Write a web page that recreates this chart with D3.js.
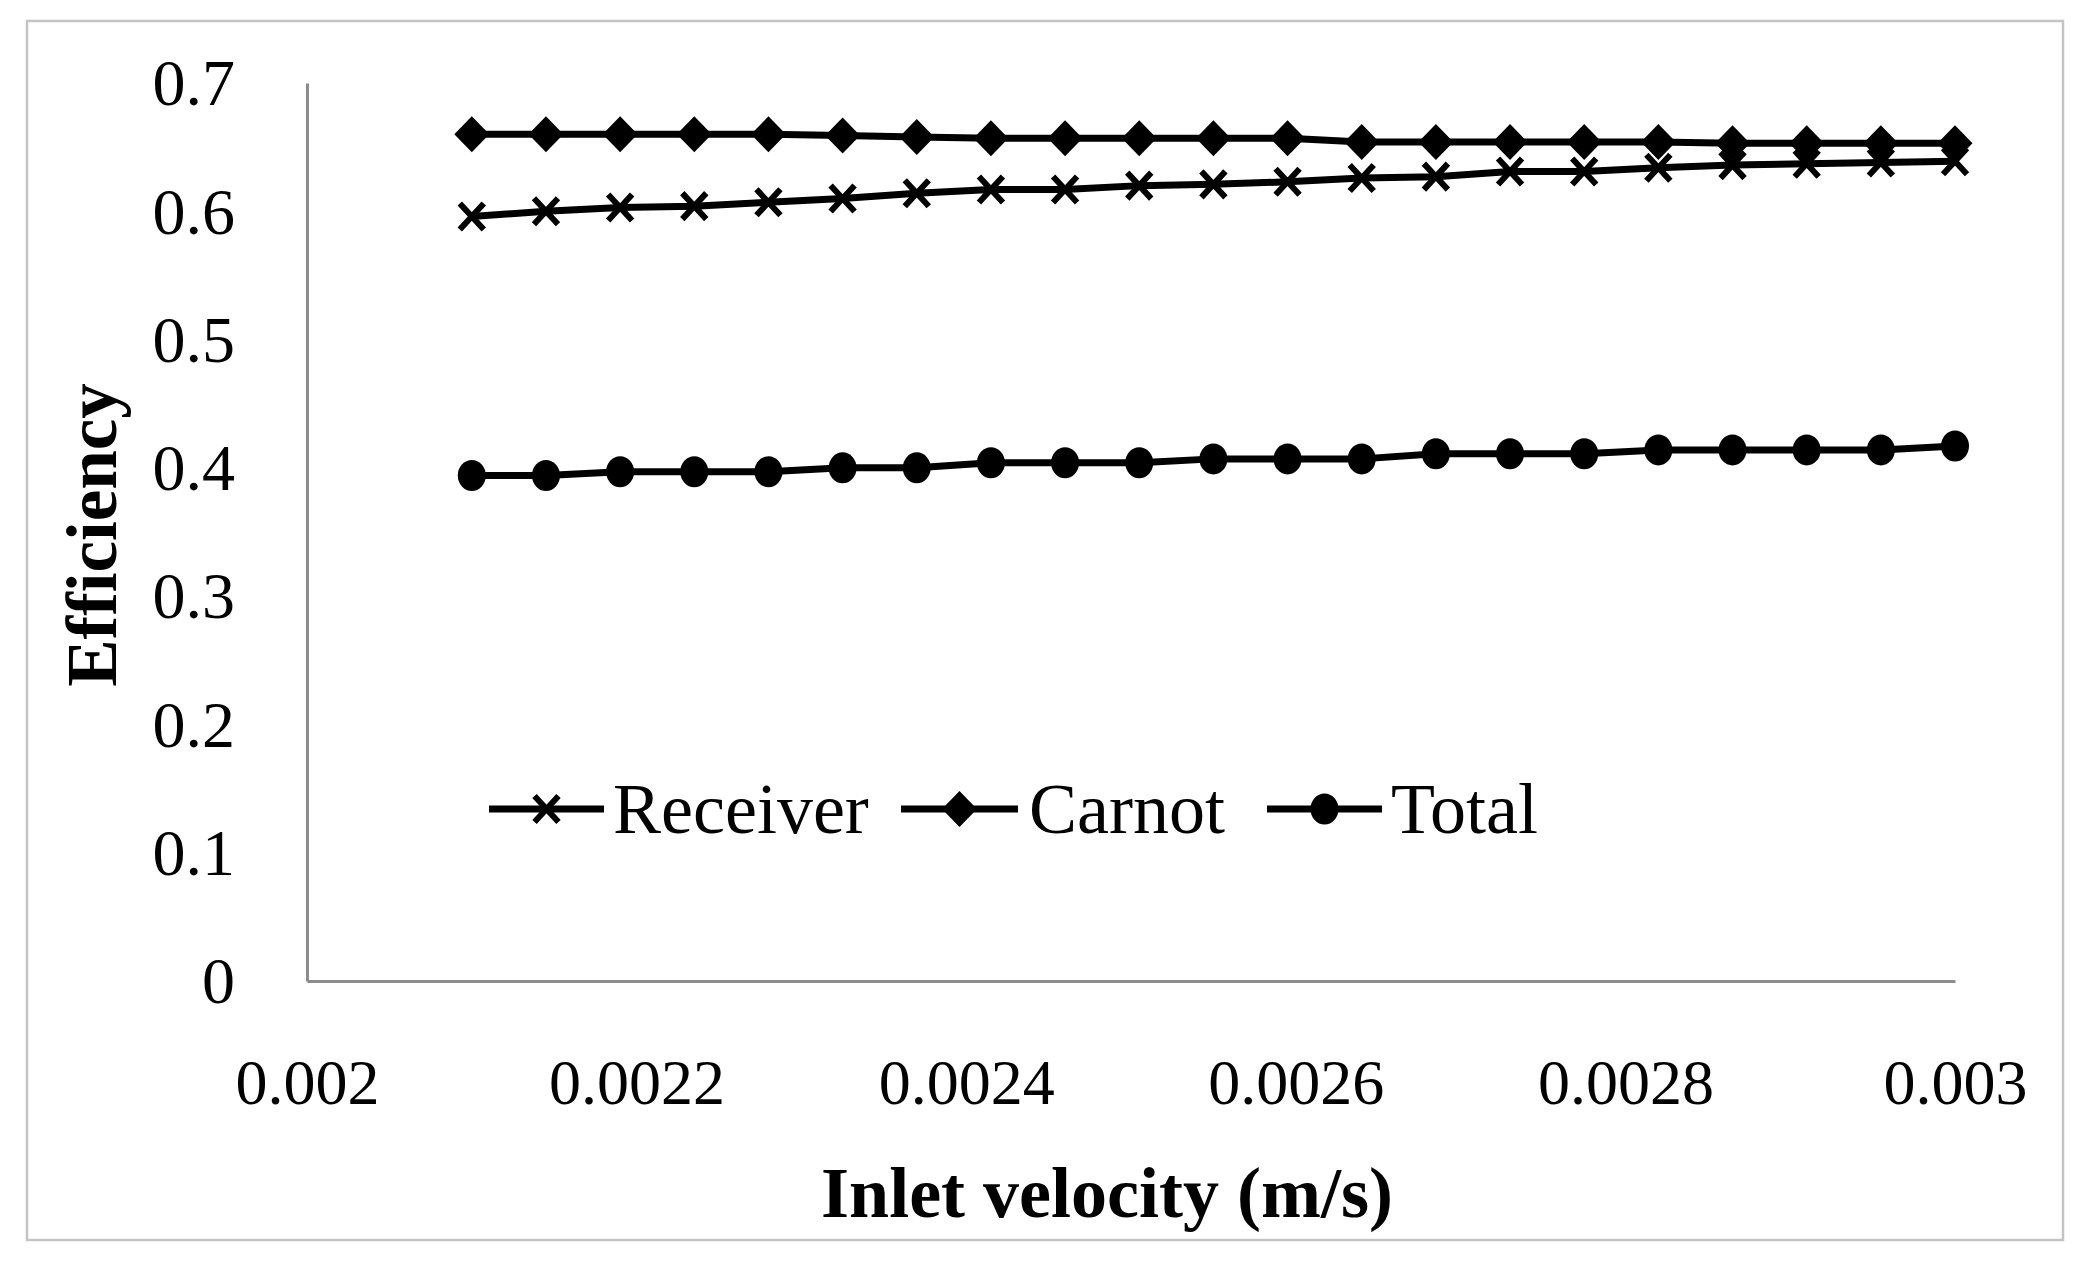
<!DOCTYPE html>
<html>
<head>
<meta charset="utf-8">
<script src="https://cdn.jsdelivr.net/npm/d3@7"></script>
<style>
  html, body { margin: 0; padding: 0; background: #fff; }
  svg { display: block; }
  text { font-family: "Liberation Serif", "Times New Roman", serif; fill: #000; }
</style>
</head>
<body>
<svg id="chart" width="2090" height="1266"></svg>
<script>
// ---- data ----
const velocity = [0.0021, 0.002145, 0.00219, 0.002235, 0.00228, 0.002325, 0.00237, 0.002415, 0.00246, 0.002505,
                  0.00255, 0.002595, 0.00264, 0.002685, 0.00273, 0.002775, 0.00282, 0.002865, 0.00291, 0.002955, 0.003];
const receiver = [0.596, 0.600, 0.603, 0.604, 0.607, 0.610, 0.614, 0.617, 0.617, 0.620, 0.621,
                  0.623, 0.626, 0.627, 0.631, 0.631, 0.634, 0.636, 0.637, 0.638, 0.639];
const carnot   = [0.660, 0.660, 0.660, 0.660, 0.660, 0.659, 0.658, 0.657, 0.657, 0.657, 0.657,
                  0.657, 0.654, 0.654, 0.654, 0.654, 0.654, 0.653, 0.653, 0.653, 0.653];
const total    = [0.394, 0.394, 0.397, 0.397, 0.397, 0.400, 0.400, 0.404, 0.404, 0.404, 0.407,
                  0.407, 0.407, 0.411, 0.411, 0.411, 0.414, 0.414, 0.414, 0.414, 0.417];
const seriesNames = ["Receiver", "Carnot", "Total"];
const xTicks = [0.002, 0.0022, 0.0024, 0.0026, 0.0028, 0.003];
const xTickLabels = ["0.002", "0.0022", "0.0024", "0.0026", "0.0028", "0.003"];
const yTicks = [0, 0.1, 0.2, 0.3, 0.4, 0.5, 0.6, 0.7];
const yTickLabels = ["0", "0.1", "0.2", "0.3", "0.4", "0.5", "0.6", "0.7"];

const series = [
  { name: seriesNames[0], values: receiver, marker: "x" },
  { name: seriesNames[1], values: carnot, marker: "diamond" },
  { name: seriesNames[2], values: total, marker: "circle" }
];

// ---- layout ----
const svg = d3.select("#chart");
const plot = { left: 307, right: 1955, top: 83, bottom: 981 };

const x = d3.scaleLinear().domain([0.002, 0.003]).range([plot.left, plot.right]);
const y = d3.scaleLinear().domain([0, 0.7]).range([plot.bottom, plot.top]);

// outer border
svg.append("rect")
  .attr("x", 27).attr("y", 21).attr("width", 2036).attr("height", 1219)
  .attr("fill", "#fff").attr("stroke", "#c4c4c4").attr("stroke-width", 2.5);

// axes
const xAxis = d3.axisBottom(x).tickValues(xTicks).tickSize(0).tickPadding(0)
  .tickFormat((d, i) => xTickLabels[i]);
const gx = svg.append("g").attr("transform", `translate(0,${plot.bottom})`).call(xAxis);
gx.select(".domain").attr("stroke", "#8c8c8c").attr("stroke-width", 3);
gx.selectAll(".tick text")
  .attr("y", 102).attr("dy", "0.33em")
  .style("font-size", "64px").style("font-family", "Liberation Serif, serif");

const yAxis = d3.axisLeft(y).tickValues(yTicks).tickSize(0).tickPadding(0)
  .tickFormat((d, i) => yTickLabels[i]);
const gy = svg.append("g").attr("transform", `translate(${plot.left},0)`).call(yAxis);
gy.select(".domain").attr("stroke", "#8c8c8c").attr("stroke-width", 3);
gy.selectAll(".tick text")
  .attr("x", -72).attr("dy", "0.33em")
  .style("font-size", "66px").style("font-family", "Liberation Serif, serif");

// axis titles
svg.append("text")
  .attr("x", 1107).attr("y", 1193).attr("dy", "0.33em")
  .attr("text-anchor", "middle")
  .style("font-size", "72px").style("font-weight", "bold")
  .text("Inlet velocity (m/s)");

svg.append("text")
  .attr("transform", "translate(93,535) rotate(-90)")
  .attr("dy", "0.33em")
  .attr("text-anchor", "middle")
  .style("font-size", "71px").style("font-weight", "bold")
  .text("Efficiency");

// marker drawing
function drawMarker(g, type) {
  if (type === "diamond") {
    g.append("path").attr("d", "M0,-18L17.5,0L0,18L-17.5,0Z").attr("fill", "#000");
  } else if (type === "circle") {
    g.append("ellipse").attr("rx", 14).attr("ry", 15.5).attr("fill", "#000");
  } else {
    g.append("path").attr("d", "M-12,-13L12,13M12,-13L-12,13")
      .attr("stroke", "#000").attr("stroke-width", 6).attr("fill", "none");
  }
}

const line = d3.line().x((d, i) => x(velocity[i])).y(d => y(d));

series.forEach(s => {
  svg.append("path")
    .datum(s.values)
    .attr("d", line)
    .attr("fill", "none")
    .attr("stroke", "#000")
    .attr("stroke-width", 7)
    .attr("stroke-linejoin", "round");
  svg.append("g").selectAll("g")
    .data(s.values)
    .join("g")
    .attr("transform", (d, i) => `translate(${x(velocity[i])},${y(d)})`)
    .each(function () { drawMarker(d3.select(this), s.marker); });
});

// legend
const legendY = 809;
const legendItems = [
  { x0: 489, x1: 604, tx: 613 },
  { x0: 901, x1: 1018, tx: 1029 },
  { x0: 1267, x1: 1382, tx: 1391 }
];
series.forEach((s, i) => {
  const li = legendItems[i];
  const g = svg.append("g");
  g.append("line")
    .attr("x1", li.x0).attr("x2", li.x1).attr("y1", legendY).attr("y2", legendY)
    .attr("stroke", "#000").attr("stroke-width", 7);
  const mg = g.append("g").attr("transform", `translate(${(li.x0 + li.x1) / 2},${legendY})`);
  drawMarker(mg, s.marker);
  g.append("text")
    .attr("x", li.tx).attr("y", legendY).attr("dy", "0.33em")
    .style("font-size", "72px")
    .text(s.name);
});
</script>
</body>
</html>
